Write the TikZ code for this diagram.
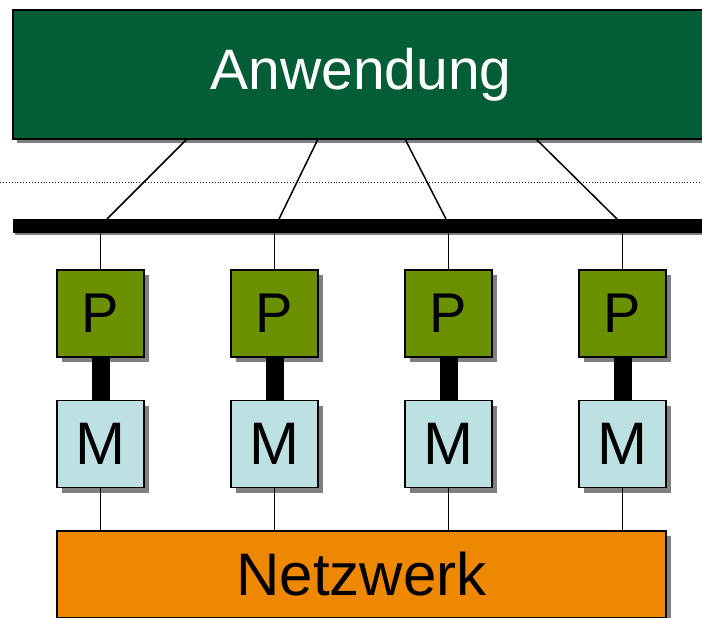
\documentclass[tikz,border=0pt]{standalone}
\usepackage{fontspec}
\setmainfont{Liberation Sans}
\usetikzlibrary{shadows}
\definecolor{appgreen}{RGB}{3,94,56}
\definecolor{procgreen}{RGB}{107,145,0}
\definecolor{memblue}{RGB}{189,224,227}
\definecolor{netorange}{RGB}{238,136,0}
\definecolor{shadowgray}{RGB}{128,128,128}
\tikzset{
  shade box/.style={drop shadow={shadow xshift=5pt, shadow yshift=-5pt, fill=shadowgray, opacity=1}},
  unitbox/.style={draw=black, line width=1.6pt, inner sep=0pt, minimum width=87pt, minimum height=87pt, shade box},
  procbox/.style={unitbox, fill=procgreen, font=\fontsize{56}{60}\selectfont},
  membox/.style={unitbox, fill=memblue, font=\fontsize{60}{64}\selectfont},
  wire/.style={line width=1.5pt},
  link/.style={line width=18pt},
}
\begin{document}
\begin{tikzpicture}[x=1pt,y=-1pt]
\useasboundingbox (0,0) rectangle (702,618);
\clip (0,0) rectangle (702,618);
\fill[white] (0,0) rectangle (702,618);

% application layer
\node[draw=black, line width=1.6pt, fill=appgreen, text=white, inner sep=0pt,
      minimum width=696pt, minimum height=129pt,
      drop shadow={shadow xshift=4pt, shadow yshift=-4pt, fill=shadowgray, opacity=1},
      font=\fontsize{57}{60}\selectfont] (anw) at (361,74.5) {Anwendung};

% separator
\coordinate (dl) at (0,182.5);
\coordinate (dr) at (702,182.5);
\draw[dotted, line width=0.9pt, black!85] (dl) -- (dr);

% bus bar
\node[fill=black, inner sep=0pt, minimum width=689pt, minimum height=14pt,
      drop shadow={shadow xshift=2pt, shadow yshift=-2pt, fill=shadowgray, opacity=1}] (bus) at (357.5,226) {};

% processor / memory units
\foreach \i/\x in {1/100.5, 2/274.5, 3/448.5, 4/622.5} {
  \node[procbox] (p\i) at (\x,313.5) {P};
  \node[membox] (m\i) at (\x,444) {M};
  \draw[link] (p\i.south) -- (m\i.north);
}

% network layer
\node[draw=black, line width=1.6pt, fill=netorange, inner sep=0pt,
      minimum width=609pt, minimum height=87pt, shade box,
      font=\fontsize{60}{64}\selectfont] (netz) at (361.5,574.5) {Netzwerk};

% application to bus
\coordinate (a1) at (187,139);  \coordinate (b1) at (107,219);
\coordinate (a2) at (318,139);  \coordinate (b2) at (279,219);
\coordinate (a3) at (405,139);  \coordinate (b3) at (446,219);
\coordinate (a4) at (536,139);  \coordinate (b4) at (617,219);
\foreach \i in {1,...,4} {
  \draw[wire] (a\i) -- (b\i);
  \draw[wire] (p\i.north) -- (p\i.north |- bus.south);
  \draw[wire] (m\i.south) -- (m\i.south |- netz.north);
}
\end{tikzpicture}
\end{document}
